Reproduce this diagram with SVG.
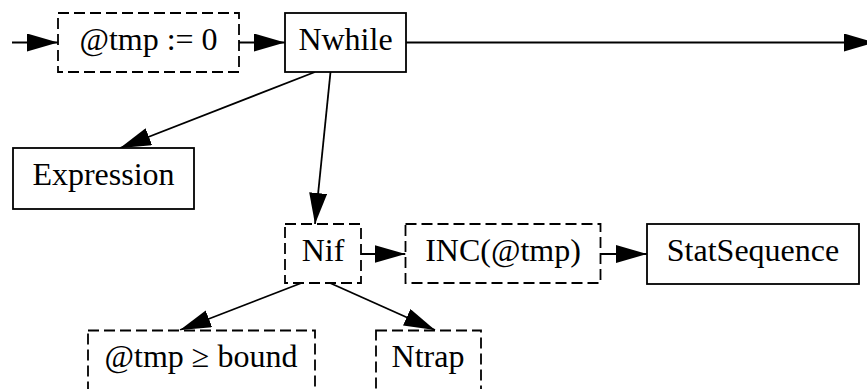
<svg xmlns="http://www.w3.org/2000/svg" width="867" height="389" viewBox="0 0 867 389">
<style>
.box{fill:#fff;stroke:#000;stroke-width:1.8}
.dash{stroke-dasharray:11,5}
.lbl{font-family:"Liberation Serif","Times New Roman",serif;font-size:32px;fill:#000;text-anchor:middle}
.edge{fill:none;stroke:#000;stroke-width:1.8;marker-end:url(#arr)}
</style>
<defs>
<marker id="arr" viewBox="0 0 31 18" refX="31" refY="9" markerWidth="31" markerHeight="18" markerUnits="userSpaceOnUse" orient="auto">
<path d="M0,0 L31,9 L0,18 Z" fill="#000"/>
</marker>
</defs>
<rect width="867" height="389" fill="#fff"/>
<g id="connectors">
<line class="edge" x1="12" y1="42.5" x2="58" y2="42.5"/>
<line class="edge" x1="239" y1="42.5" x2="285" y2="42.5"/>
<line class="edge" x1="406" y1="42.5" x2="875" y2="42.5"/>
<line class="edge" x1="315" y1="72" x2="120" y2="148"/>
<line class="edge" x1="330.5" y1="72" x2="315" y2="224"/>
<line class="edge" x1="361" y1="254" x2="405.5" y2="254"/>
<line class="edge" x1="600.5" y1="254" x2="647" y2="254"/>
<line class="edge" x1="301.5" y1="283" x2="180" y2="330"/>
<line class="edge" x1="330" y1="283" x2="435" y2="330"/>
</g>
<g id="init">
<rect class="box dash" x="58" y="13" width="181" height="59"/>
<text class="lbl" x="148.5" y="49.5">@tmp := 0</text>
</g>
<g id="nwhile">
<rect class="box" x="285" y="13" width="121" height="59"/>
<text class="lbl" x="345.5" y="49.5">Nwhile</text>
</g>
<g id="expression">
<rect class="box" x="13" y="148" width="181" height="61"/>
<text class="lbl" x="103.5" y="185">Expression</text>
</g>
<g id="nif">
<rect class="box dash" x="285" y="224" width="76" height="59"/>
<text class="lbl" x="323" y="261">Nif</text>
</g>
<g id="inc">
<rect class="box dash" x="405.5" y="224" width="195" height="59"/>
<text class="lbl" x="503" y="261">INC(@tmp)</text>
</g>
<g id="statsequence">
<rect class="box" x="647" y="224" width="212" height="60"/>
<text class="lbl" x="753" y="261">StatSequence</text>
</g>
<g id="cond">
<rect class="box dash" x="88" y="330.5" width="227" height="60"/>
<text class="lbl" x="201" y="366.5">@tmp ≥ bound</text>
</g>
<g id="ntrap">
<rect class="box dash" x="376" y="330.5" width="105" height="60"/>
<text class="lbl" x="428" y="366.5">Ntrap</text>
</g>
</svg>
